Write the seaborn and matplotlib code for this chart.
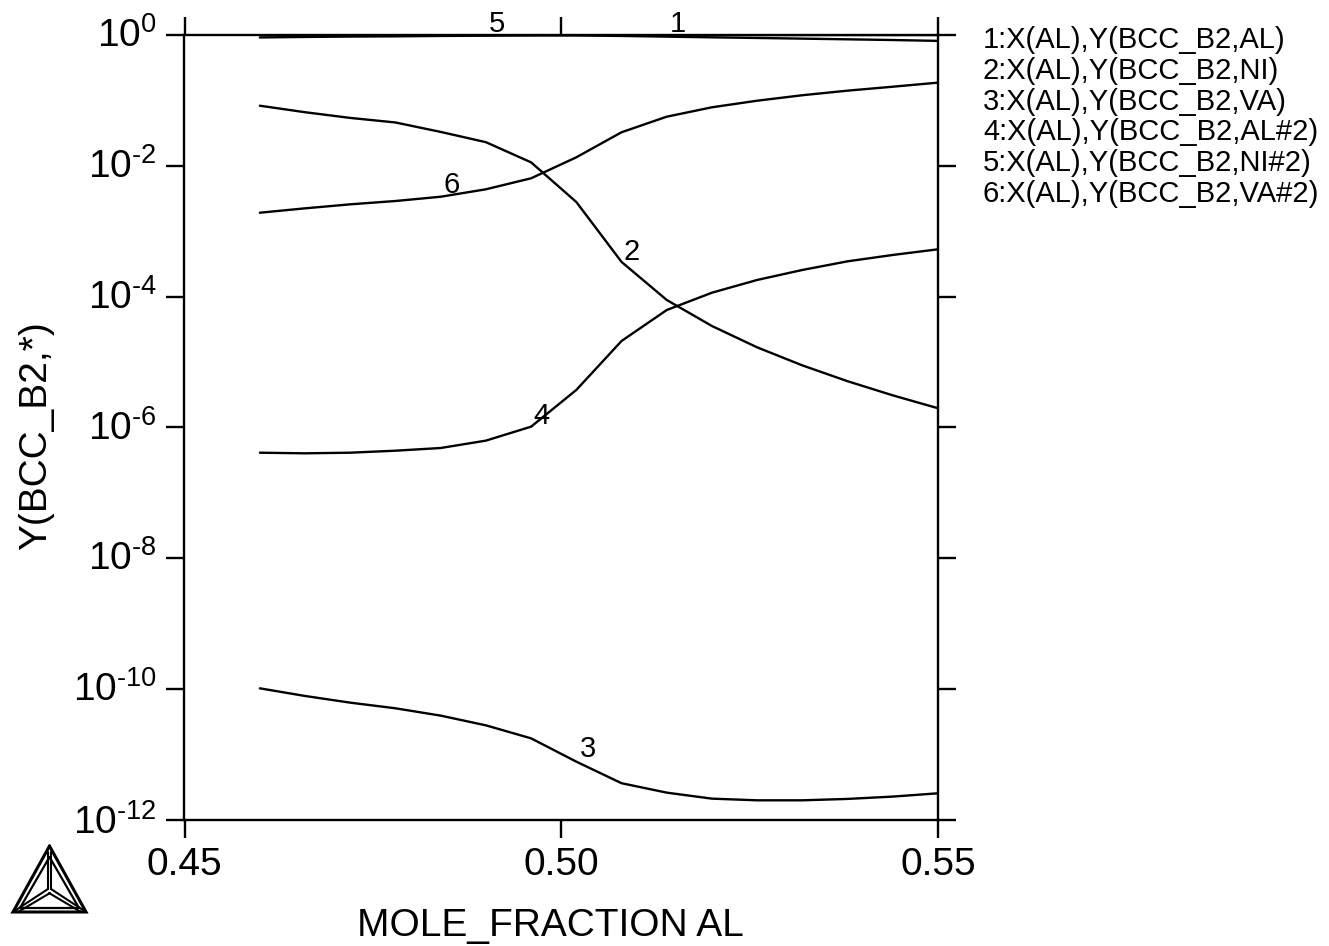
# Site fractions of the BCC_B2 phase against mole fraction of Al
import pandas as pd
import matplotlib.pyplot as plt
import seaborn as sns
from matplotlib.transforms import ScaledTranslation

# -----------------------------------------------------------------------------
# DATA
# -----------------------------------------------------------------------------
x_al = [0.460, 0.466, 0.472, 0.478, 0.484, 0.490, 0.496, 0.502,
        0.508, 0.514, 0.520, 0.526, 0.532, 0.538, 0.544, 0.550]

y_al = [0.917, 0.934, 0.946, 0.954, 0.967, 0.977, 0.989, 0.997,
        0.9997, 0.9999, 1.0, 1.0, 1.0, 1.0, 1.0, 1.0]
y_ni = [8.3e-2, 6.6e-2, 5.4e-2, 4.6e-2, 3.3e-2, 2.3e-2, 1.13e-2, 2.8e-3,
        3.4e-4, 8.9e-5, 3.56e-5, 1.68e-5, 8.9e-6, 5.1e-6, 3.1e-6, 1.97e-6]
y_va = [1.03e-10, 7.87e-11, 6.22e-11, 5.1e-11, 3.94e-11, 2.8e-11, 1.77e-11, 7.8e-12,
        3.65e-12, 2.62e-12, 2.12e-12, 2.0e-12, 2.0e-12, 2.1e-12, 2.28e-12, 2.56e-12]
y_al2 = [4.12e-7, 4.03e-7, 4.12e-7, 4.42e-7, 4.86e-7, 6.3e-7, 1.03e-6, 3.75e-6,
         2.10e-5, 6.25e-5, 1.15e-4, 1.80e-4, 2.56e-4, 3.47e-4, 4.34e-4, 5.3e-4]
y_ni2 = [0.998, 0.998, 0.997, 0.997, 0.997, 0.996, 0.994, 0.987,
         0.967, 0.944, 0.921, 0.901, 0.880, 0.859, 0.838, 0.813]
y_va2 = [1.92e-3, 2.24e-3, 2.58e-3, 2.9e-3, 3.37e-3, 4.38e-3, 6.45e-3, 1.35e-2,
         3.26e-2, 5.64e-2, 7.85e-2, 9.9e-2, 0.120, 0.141, 0.162, 0.187]

curve_names = ["1:X(AL),Y(BCC_B2,AL)", "2:X(AL),Y(BCC_B2,NI)", "3:X(AL),Y(BCC_B2,VA)",
               "4:X(AL),Y(BCC_B2,AL#2)", "5:X(AL),Y(BCC_B2,NI#2)", "6:X(AL),Y(BCC_B2,VA#2)"]
curve_values = [y_al, y_ni, y_va, y_al2, y_ni2, y_va2]

x_ticks = [0.45, 0.50, 0.55]
x_tick_labels = ["0.45", "0.50", "0.55"]
y_exponents = [0, -2, -4, -6, -8, -10, -12]

# curve number written next to each line: number, x, y
curve_labels = [("1", 0.5155, 1.47), ("2", 0.5094, 4.8e-4), ("3", 0.5036, 1.2e-11),
                ("4", 0.4974, 1.5e-6), ("5", 0.4915, 1.47), ("6", 0.4855, 5.1e-3)]

rows = []
for name, values in zip(curve_names, curve_values):
    for x, y in zip(x_al, values):
        rows.append({"x": x, "y": y, "curve": name})
df = pd.DataFrame(rows)

# -----------------------------------------------------------------------------
# STYLE
# -----------------------------------------------------------------------------
sns.set_style("ticks")
plt.rcParams["font.family"] = ["Liberation Sans", "DejaVu Sans"]
plt.rcParams["text.color"] = "black"
plt.rcParams["axes.labelcolor"] = "black"
plt.rcParams["mathtext.fontset"] = "custom"
plt.rcParams["mathtext.rm"] = "Liberation Sans"
plt.rcParams["mathtext.default"] = "rm"

W, H = 1329, 946
LW = 1.7

fig = plt.figure(figsize=(W / 100, H / 100), dpi=100, facecolor="white")
ax = fig.add_axes([184.5 / W, 1 - 820 / H, (938 - 184.5) / W, (820 - 35) / H])

# -----------------------------------------------------------------------------
# CURVES
# -----------------------------------------------------------------------------
sns.lineplot(data=df, x="x", y="y", hue="curve", palette=["black"] * 6,
             estimator=None, sort=False, legend=False, linewidth=LW, ax=ax)
ax.set_yscale("log")
ax.set_xlim(0.45, 0.55)
ax.set_ylim(1e-12, 1)

ax.set_xticks(x_ticks)
ax.set_xticklabels(x_tick_labels)
ax.set_yticks([10.0 ** e for e in y_exponents])
ax.set_yticklabels(["$10^{\\text{-}%d}$" % -e if e < 0 else "$10^{%d}$" % e for e in y_exponents])
ax.minorticks_off()
ax.tick_params(axis="both", which="major", direction="out", length=13, width=LW,
               top=True, right=True, labeltop=False, labelright=False,
               labelsize=28, colors="black")
ax.tick_params(axis="x", pad=6.5)
ax.tick_params(axis="y", pad=7)

# exponent labels sit a little above their tick, the lowest one less so
for e, label in zip(y_exponents, ax.get_yticklabels()):
    shift = 1 if e == -12 else 3
    label.set_transform(label.get_transform() + ScaledTranslation(0, shift / 100, fig.dpi_scale_trans))

for spine in ax.spines.values():
    spine.set_visible(True)
    spine.set_linewidth(LW)
    spine.set_color("black")

ax.set_xlabel("MOLE_FRACTION AL", fontsize=28)
ax.set_ylabel("Y(BCC_B2,*)", fontsize=28)
ax.xaxis.set_label_coords(0.486, -0.1125, transform=ax.transAxes)
ax.yaxis.set_label_coords(-0.173, 0.49, transform=ax.transAxes)

for number, x, y in curve_labels:
    ax.text(x, y, number, fontsize=21, ha="center", va="center", clip_on=False)

# -----------------------------------------------------------------------------
# LEGEND TEXT AND LOGO (overlay measured in pixels)
# -----------------------------------------------------------------------------
over = fig.add_axes([0, 0, 1, 1], facecolor="none")
over.set_xlim(0, W)
over.set_ylim(H, 0)
over.axis("off")

legend_y = 40.5
for name in curve_names:
    over.text(983, legend_y, name, fontsize=21, ha="left", va="center")
    legend_y += 30.6

# outer triangle, inner triangle, then the double spokes to the centre
over.plot([49.5, 13, 86, 49.5], [846, 912, 912, 846], color="black", lw=2.2, solid_joinstyle="miter")
over.plot([49.5, 20, 79, 49.5], [857, 908, 908, 857], color="black", lw=1.6, solid_joinstyle="miter")
over.plot([48, 48], [852, 889], color="black", lw=1.5)
over.plot([51, 51], [852, 889], color="black", lw=1.5)
over.plot([16, 48], [910, 889], color="black", lw=1.5)
over.plot([18, 50], [912, 893], color="black", lw=1.5)
over.plot([83, 51], [910, 889], color="black", lw=1.5)
over.plot([81, 49], [912, 893], color="black", lw=1.5)

plt.savefig("out.png", dpi=100)
plt.close()
